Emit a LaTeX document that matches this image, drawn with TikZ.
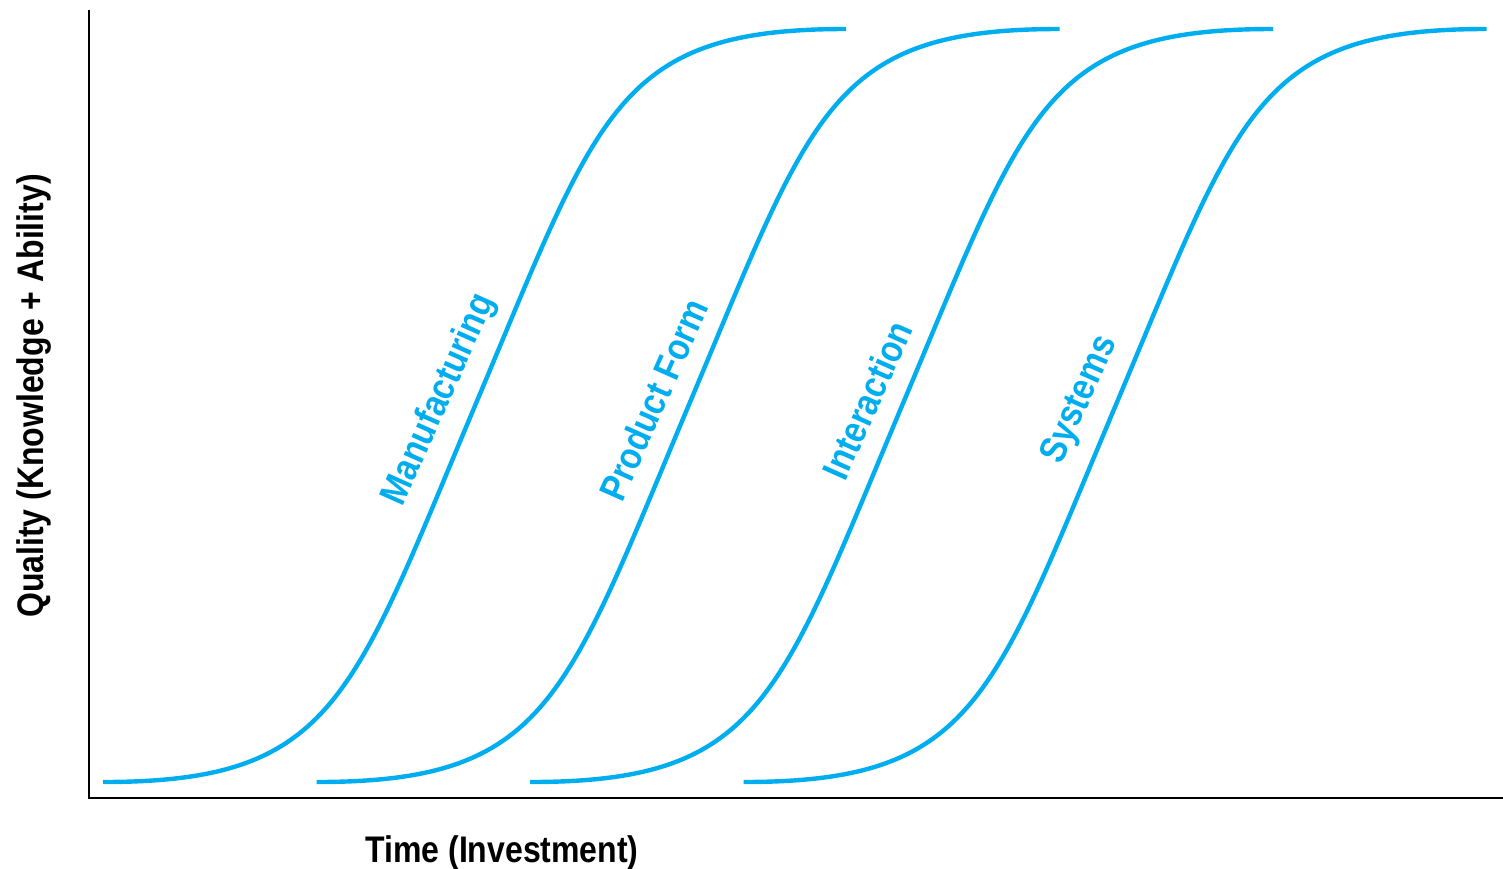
\documentclass[tikz,border=0pt]{standalone}
\usepackage{fontspec}
\setmainfont{Liberation Sans}[FakeStretch=0.865]
\definecolor{curvecyan}{RGB}{0,174,239}
\begin{document}
\begin{tikzpicture}[x=0.5pt, y=-0.5pt,
		scurve/.style={curvecyan, line width=2.2pt},
		curvelbl/.style={curvecyan, font=\fontsize{19}{19}\selectfont\bfseries, rotate=66},
		axislbl/.style={font=\fontsize{18.5}{18.5}\selectfont\bfseries}]
		\useasboundingbox (0,0) rectangle (1503,868);
		\draw[line width=0.7pt] (89,10) -- (89,798) -- (1503,798);
		\foreach \dx/\name/\txt in {0/manu/Manufacturing, 213.5/prod/Product Form,
			427/inter/Interaction, 640.5/sys/Systems}{
			\draw[scurve, shift={(\dx,0)}] (103,782) .. controls (334,782) and (351,700.5) .. (475.1,405.5)
				.. controls (599.4,110.5) and (616,29) .. (846,29);
			\node[curvelbl] (\name) at (440+\dx,400) {\txt};
		}
		\node[axislbl, anchor=base] (time) at (502,862) {Time (Investment)};
		\node[axislbl, rotate=90, anchor=base] (quality) at (43,396) {Quality (Knowledge + Ability)};
	\end{tikzpicture}
\end{document}
